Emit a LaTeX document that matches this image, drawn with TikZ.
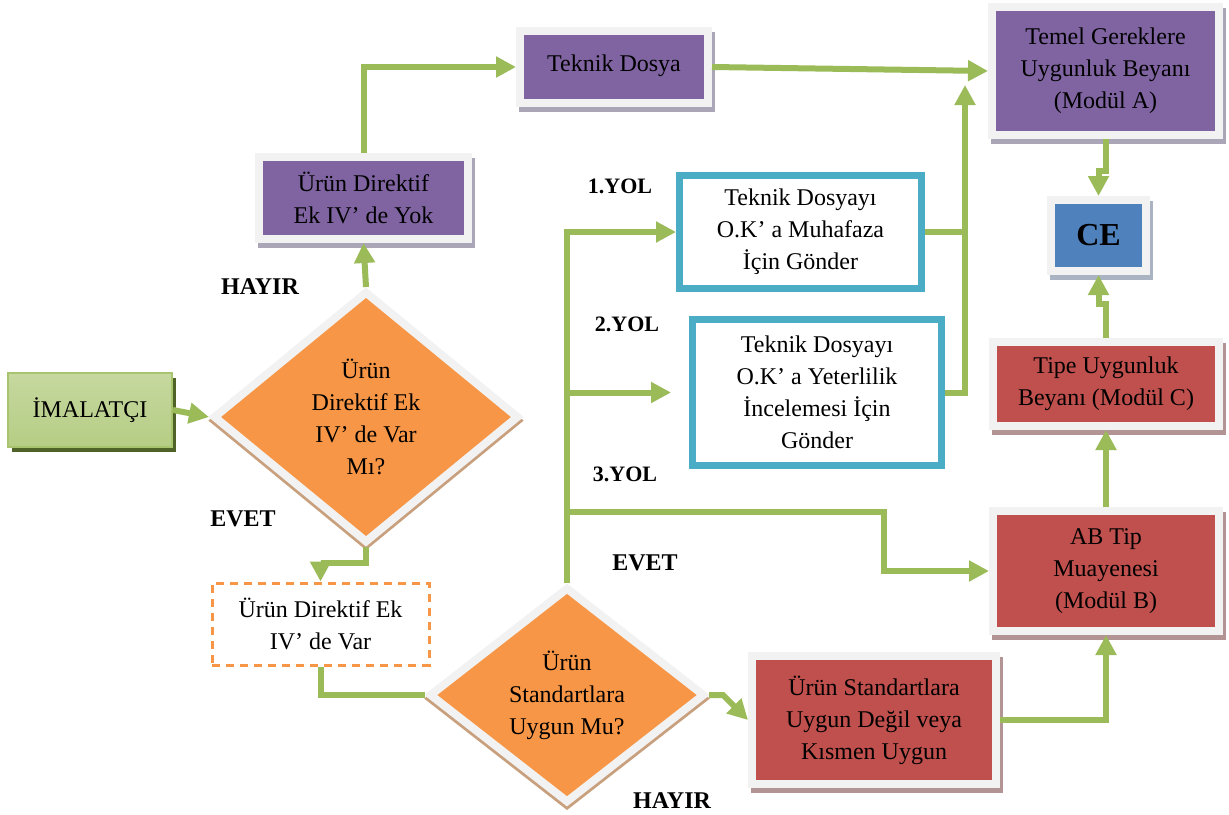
\documentclass[tikz,border=0pt]{standalone}
\usepackage{fontspec}
\setmainfont{Liberation Serif}
\usetikzlibrary{shapes.geometric,arrows.meta}
\definecolor{gline}{HTML}{9BBB59}
\definecolor{frame}{HTML}{F2F2F2}
\definecolor{purp}{HTML}{8064A2}
\definecolor{purpsh}{HTML}{ABA5B8}
\definecolor{redb}{HTML}{C0504D}
\definecolor{redsh}{HTML}{B39494}
\definecolor{blueb}{HTML}{4F81BD}
\definecolor{bluesh}{HTML}{A9B3C2}
\definecolor{cyanb}{HTML}{4BACC6}
\definecolor{orng}{HTML}{F79646}
\definecolor{orngsh}{HTML}{C9A07E}
\definecolor{gtop}{HTML}{C6D89F}
\definecolor{gmid}{HTML}{9BBB59}
\definecolor{gbot}{HTML}{B5CD84}
\definecolor{gborder}{HTML}{A9C46F}
\definecolor{gshadow}{HTML}{4F6228}
\begin{document}
\begin{tikzpicture}[x=0.5pt,y=-0.5pt,
  body/.style={font=\fontsize{12}{16}\selectfont},
  sh/.style={preaction={fill=#1,draw=#1,line width=4pt,transform canvas={xshift=1.5pt,yshift=-2.5pt}}},
  box/.style={rectangle,draw=frame,line width=4pt,align=center,inner sep=0pt,body},
  pbox/.style={box,fill=purp,sh=purpsh},
  rbox/.style={box,fill=redb,sh=redsh},
  bbox/.style={box,fill=blueb,sh=bluesh},
  cbox/.style={rectangle,draw=cyanb,line width=3.5pt,fill=white,align=center,inner sep=0pt,body},
  dbox/.style={rectangle,draw=orng,line width=1.5pt,dash pattern=on 4pt off 3pt,align=center,inner sep=0pt,body},
  dia/.style={diamond,draw=frame,line width=4pt,fill=orng,align=center,inner sep=0pt,body,
    preaction={fill=orngsh,draw=orngsh,line width=4pt,transform canvas={yshift=-1.8pt}}},
  lab/.style={font=\bfseries\fontsize{12}{14}\selectfont,inner sep=0pt},
  yol/.style={font=\bfseries\fontsize{11}{13}\selectfont,inner sep=0pt},
  gl/.style={draw=gline,line width=3pt},
  arr/.style={gl,-{Triangle[length=10pt,width=10pt]}}]
\useasboundingbox (0,0) rectangle (1229,814);

% nodes
\node[rectangle,minimum width=82pt,minimum height=37pt,draw=gborder,line width=1pt,
  top color=gtop,middle color=gmid,bottom color=gbot,body,
  preaction={fill=gshadow,transform canvas={xshift=2pt,yshift=-2.5pt}}] (imal) at (90,410) {İMALATÇI};
\node[dia,minimum width=153pt,minimum height=126pt] (d1) at (366,417) {Ürün\\Direktif Ek\\IV’ de Var\\Mı?};
\node[pbox,minimum width=104.5pt,minimum height=41pt] (yok) at (363.5,198) {Ürün Direktif\\Ek IV’ de Yok};
\node[pbox,minimum width=94pt,minimum height=36pt] (tek) at (614,67) {\raisebox{3.5pt}{Teknik Dosya}};
\node[pbox,minimum width=113.5pt,minimum height=64pt] (temel) at (1105.5,71) {Temel Gereklere\\Uygunluk Beyanı\\(Modül A)};
\node[bbox,minimum width=47.5pt,minimum height=35.5pt,font=\bfseries\fontsize{16}{18}\selectfont] (ce) at (1098.5,235.5) {CE};
\node[rbox,minimum width=113pt,minimum height=42pt] (tipe) at (1106,384) {Tipe Uygunluk\\Beyanı (Modül C)};
\node[rbox,minimum width=113pt,minimum height=60pt] (ab) at (1106,571) {AB Tip\\Muayenesi\\(Modül B)};
\node[rbox,minimum width=122pt,minimum height=64pt] (kis) at (874,720) {Ürün Standartlara\\Uygun Değil veya\\Kısmen Uygun};
\node[cbox,minimum width=121pt,minimum height=56.5pt] (yol1) at (800.5,232) {Teknik Dosyayı\\O.K’ a Muhafaza\\İçin Gönder};
\node[cbox,minimum width=124.5pt,minimum height=73pt] (yol2) at (817,392.5) {Teknik Dosyayı\\O.K’ a Yeterlilik\\İncelemesi İçin\\Gönder};
\node[dbox,minimum width=108.5pt,minimum height=41pt] (var) at (320.5,624) {Ürün Direktif Ek\\IV’ de Var};
\node[dia,minimum width=138pt,minimum height=108pt] (d2) at (567,695) {Ürün\\Standartlara\\Uygun Mu?};

% labels
\node[lab] (hayir1) at (260,287) {HAYIR};
\node[lab] (evet1) at (243,519) {EVET};
\node[lab] (evet2) at (645,563) {EVET};
\node[lab] (hayir2) at (672,801) {HAYIR};
\node[yol] (y1) at (620,186) {1.YOL};
\node[yol] (y2) at (627,324) {2.YOL};
\node[yol] (y3) at (625,474) {3.YOL};

% helper coordinates
\coordinate (row3) at (0,512);
\coordinate (k3) at (884,512);
\coordinate (join) at (965,85);

% connectors
\draw[arr] (imal.east) -- (d1.west);
\draw[arr] (d1.north) -- (yok.south);
\draw[arr] (yok.north) |- (tek.west);
\draw[arr] (tek.east) -- (temel.west);
\draw[arr] (temel.south) -- ++(0,32) -| (ce.north);
\draw[arr] (tipe.north) -- ++(0,-34) -| (ce.south);
\draw[arr] (ab.north) -- (tipe.south);
\draw[arr] (kis.east) -| (ab.south);
\draw[arr] (d2.east) -- ++(14,0) -- (kis.west);
\draw[arr] (d1.south) -- ++(0,16) -| (var.north);
\draw[gl] (var.south) |- (d2.west);
\draw[arr] (d2.north) |- (yol1.west);
\draw[arr,shorten >=9pt] (d2.north |- yol2.west) -- (yol2.west);
\draw[arr] (d2.north |- row3) -- (k3) |- (ab.west);
\draw[gl] (yol1.east) -- (yol1.east -| join);
\draw[arr] (yol2.east) -| (join);
\end{tikzpicture}
\end{document}
